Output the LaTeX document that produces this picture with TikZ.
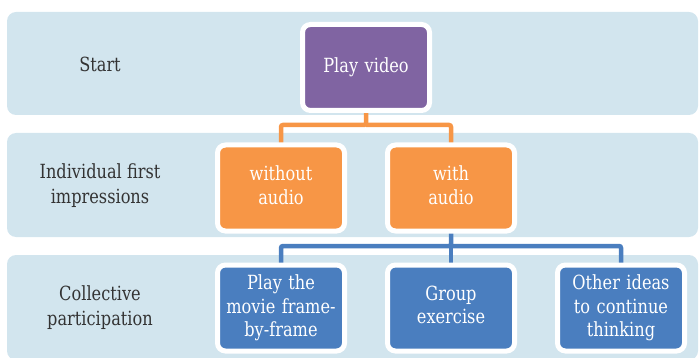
\documentclass[tikz,border=0pt]{standalone}
\usepackage{fontspec}
\setmainfont{DejaVu Serif}[FakeStretch=0.83]
\usetikzlibrary{calc}
\definecolor{bandblue}{HTML}{D2E5EE}
\definecolor{boxpurple}{HTML}{8064A2}
\definecolor{boxorange}{HTML}{F79646}
\definecolor{boxblue}{HTML}{4A7EBF}
\definecolor{labeltext}{HTML}{333333}
% extra depth under a last line lifts a two-line label a little
\newcommand{\liftline}{\rule[-6pt]{0pt}{6pt}}
\tikzset{
  band/.style={fill=bandblue, draw=none, rounded corners=9pt},
  stepbox/.style={draw=white, line width=5pt, rounded corners=8pt,
    minimum width=127pt, minimum height=86pt, text width=124pt,
    align=center, text=white, inner sep=0pt,
    font=\fontsize{19.5}{23.5}\selectfont},
  purplebox/.style={stepbox, fill=boxpurple},
  orangebox/.style={stepbox, fill=boxorange},
  bluebox/.style={stepbox, fill=boxblue},
  rowlabel/.style={align=center, text=labeltext,
    font=\fontsize{19.5}{25}\selectfont},
  link/.style={line width=4.5pt, rounded corners=2pt},
}
\begin{document}
\begin{tikzpicture}[x=1pt, y=-1pt]
  \useasboundingbox (0,0) rectangle (700,358);
  % background rows
  \fill[band] (7,12) rectangle (698,115);
  \fill[band] (7,133) rectangle (698,237);
  \fill[band] (7,255) rectangle (698,360);
  % row labels
  \node[rowlabel] (lstart) at (100,64) {Start};
  \node[rowlabel] (lindiv) at (100,186) {Individual first\\impressions};
  \node[rowlabel] (lcoll) at (100,308) {Collective\\participation};
  % connectors (drawn first so the boxes cover their ends)
  \coordinate (play) at (366,67.5);
  \coordinate (wo) at (281,188);
  \coordinate (wa) at (451,188);
  \coordinate (pm) at (281,308);
  \coordinate (ge) at (451,308);
  \coordinate (oi) at (621,308);
  \draw[link, boxorange] (play) -- ($(play)+(0,57.5)$) -| (wo);
  \draw[link, boxorange] ($(play)+(0,57.5)$) -| (wa);
  \draw[link, boxblue] (wa) -- ($(wa)+(0,58)$) -| (pm);
  \draw[link, boxblue] ($(wa)+(0,58)$) -- ($(ge)+(0,-62)$) -- (ge);
  \draw[link, boxblue] ($(wa)+(0,58)$) -| (oi);
  % boxes
  \node[purplebox] (nplay) at (play) {Play video\rule[-2pt]{0pt}{2pt}};
  \node[orangebox] (nwo) at (wo) {without\\audio\liftline};
  \node[orangebox] (nwa) at (wa) {with\\audio\liftline};
  \node[bluebox] (npm) at (pm) {Play the\\movie frame-\\by-frame};
  \node[bluebox] (nge) at (ge) {Group\\exercise\liftline};
  \node[bluebox] (noi) at (oi) {Other ideas\\to continue\\thinking};
\end{tikzpicture}
\end{document}
